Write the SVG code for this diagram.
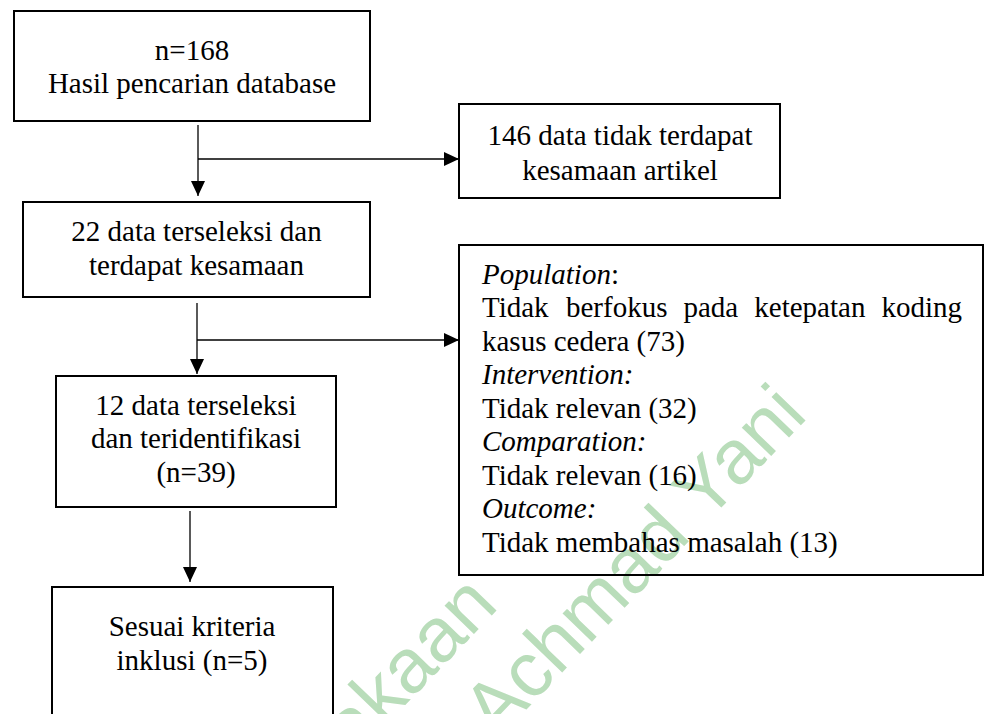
<svg xmlns="http://www.w3.org/2000/svg" width="984" height="714" viewBox="0 0 984 714">
<style>
.box{fill:none;stroke:#000;stroke-width:2}
.t{font-family:"Liberation Serif","Times New Roman",serif;font-size:29px;fill:#000}
.c{text-anchor:middle}
.i{font-style:italic}
.conn line{stroke:#000;stroke-width:1.3;fill:none}
.wm{font-family:"Liberation Sans",Arial,sans-serif;font-size:77px;fill:#b9ddba}
</style>
<defs>
<marker id="ah" markerUnits="userSpaceOnUse" markerWidth="15" markerHeight="14" refX="15" refY="7" orient="auto">
<path d="M0,0 L15,7 L0,14 Z" fill="#000"/>
</marker>
</defs>
<rect x="0" y="0" width="984" height="714" fill="#fff"/>
<g id="watermark">
<text class="wm" x="500" y="607" text-anchor="end" transform="rotate(-46 500 607)">Perpustakaan</text>
<text class="wm" x="496" y="741" transform="rotate(-46 496 741)">Achmad Yani</text>
</g>
<g id="connectors" class="conn">
<line x1="198" y1="125" x2="198" y2="196" marker-end="url(#ah)"/>
<line x1="198" y1="159" x2="459" y2="159" marker-end="url(#ah)"/>
<line x1="197" y1="303" x2="197" y2="374" marker-end="url(#ah)"/>
<line x1="197" y1="340" x2="459" y2="340" marker-end="url(#ah)"/>
<line x1="190" y1="511" x2="190" y2="582" marker-end="url(#ah)"/>
</g>
<g id="n1">
<rect class="box" x="14" y="11" width="356" height="110"/>
<text class="t c" x="192" y="60">n=168</text>
<text class="t c" x="192" y="93">Hasil pencarian database</text>
</g>
<g id="n2">
<rect class="box" x="459" y="104" width="321" height="94"/>
<text class="t c" x="620" y="145">146 data tidak terdapat</text>
<text class="t c" x="620" y="180">kesamaan artikel</text>
</g>
<g id="n3">
<rect class="box" x="23" y="202" width="347" height="95"/>
<text class="t c" x="196.5" y="241">22 data terseleksi dan</text>
<text class="t c" x="196.5" y="275">terdapat kesamaan</text>
</g>
<g id="n4">
<rect class="box" x="56" y="376" width="280" height="131"/>
<text class="t c" x="196" y="415">12 data terseleksi</text>
<text class="t c" x="196" y="448">dan teridentifikasi</text>
<text class="t c" x="196" y="482">(n=39)</text>
</g>
<g id="n5">
<rect class="box" x="52" y="587" width="281" height="140"/>
<text class="t c" x="192" y="636">Sesuai kriteria</text>
<text class="t c" x="192" y="670">inklusi (n=5)</text>
</g>
<g id="n6">
<rect class="box" x="459" y="245" width="524" height="330"/>
<text class="t" x="482" y="283.5"><tspan class="i">Population</tspan>:</text>
<text class="t" y="317"><tspan x="482">Tidak</tspan><tspan x="566">berfokus</tspan><tspan x="683.5">pada</tspan><tspan x="754.3">ketepatan</tspan><tspan x="881.5">koding</tspan></text>
<text class="t" x="482" y="350.5">kasus cedera (73)</text>
<text class="t i" x="482" y="384">Intervention:</text>
<text class="t" x="482" y="417.5">Tidak relevan (32)</text>
<text class="t i" x="482" y="451">Comparation:</text>
<text class="t" x="482" y="484.5">Tidak relevan (16)</text>
<text class="t i" x="482" y="518">Outcome:</text>
<text class="t" x="482" y="551.5">Tidak membahas masalah (13)</text>
</g>
</svg>
